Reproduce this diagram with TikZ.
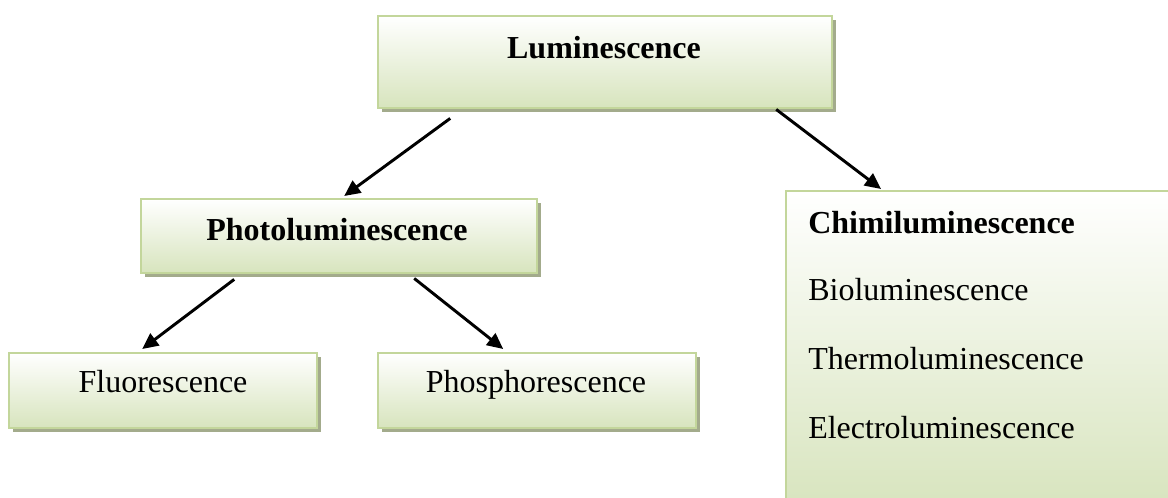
\documentclass[tikz,border=0pt]{standalone}
\usepackage{fontspec}
\setmainfont{Liberation Serif}
\usetikzlibrary{arrows.meta,shadows}

\definecolor{boxgreen}{HTML}{D7E4BD}
\definecolor{boxline}{HTML}{C3D69B}
\definecolor{boxshade}{HTML}{A3AB8C}

\tikzset{
	box/.style={draw=boxline, line width=1.8pt, top color=white, bottom color=boxgreen,
		anchor=north west, inner sep=0pt,
		drop shadow={shadow xshift=3pt, shadow yshift=-3pt, fill=boxshade, opacity=1}},
	word/.style={font=\fontsize{24}{29}\selectfont, inner sep=0pt, anchor=base},
	arr/.style={line width=2.2pt, -{Triangle[length=12pt,width=11pt]}}
}

\begin{document}
\begin{tikzpicture}[x=0.75pt, y=-0.75pt]
	\useasboundingbox (0,0) rectangle (1168,497);

	% boxes
	\node[box, minimum width=454*0.75pt, minimum height=92*0.75pt] (lum) at (377,15) {};
	\node[box, minimum width=396*0.75pt, minimum height=74*0.75pt] (photo) at (140,198) {};
	\node[box, minimum width=308*0.75pt, minimum height=75*0.75pt] (fluo) at (8,352) {};
	\node[box, minimum width=318*0.75pt, minimum height=75*0.75pt] (phos) at (377,352) {};
	\begin{scope}
		\clip (0,0) rectangle (1168,497);
		\node[box, drop shadow={opacity=0}, minimum width=400*0.75pt, minimum height=320*0.75pt] (chimi) at (785,190) {};
	\end{scope}

	% texts
	\node[word, font=\fontsize{24}{29}\selectfont\bfseries] (lumtext) at (604,58) {Luminescence};
	\node[word, font=\fontsize{24}{29}\selectfont\bfseries] (phototext) at (337,240) {Photoluminescence};
	\node[word] (fluotext) at (163,392) {Fluorescence};
	\node[word] (phostext) at (536,392) {Phosphorescence};
	\node[word, anchor=base west, font=\fontsize{24}{29}\selectfont\bfseries] (chimitext) at (808,233) {Chimiluminescence};
	\node[word, anchor=base west] (biotext) at (808,300) {Bioluminescence};
	\node[word, anchor=base west] (thermotext) at (808,369) {Thermoluminescence};
	\node[word, anchor=base west] (electrotext) at (808,438) {Electroluminescence};

	% arrows
	\draw[arr] ([shift={(-155,9)}]lum.south) -- ([shift={(5,-2)}]photo.north);
	\draw[arr] ([shift={(171,0)}]lum.south) -- ([shift={(96,-1)}]chimi.north west);
	\draw[arr] ([shift={(-105,5)}]photo.south) -- ([shift={(-21,-3)}]fluo.north);
	\draw[arr] ([shift={(75,4)}]photo.south) -- ([shift={(-34,-3)}]phos.north);
\end{tikzpicture}
\end{document}
